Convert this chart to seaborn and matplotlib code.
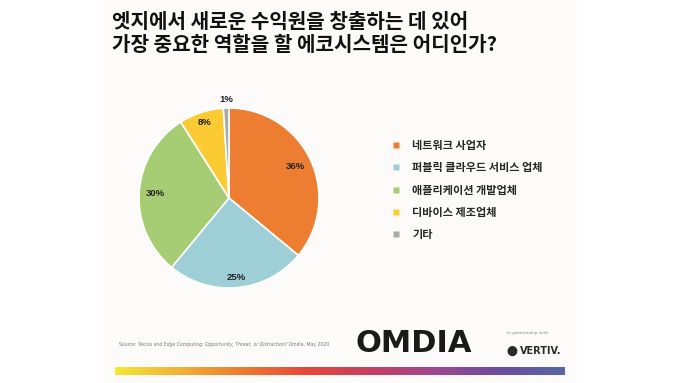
import numpy as np
import seaborn as sns
import matplotlib.pyplot as plt
from matplotlib.colors import LinearSegmentedColormap
from matplotlib.lines import Line2D
from matplotlib.patches import Rectangle

# Data
categories = ['네트워크 사업자', '퍼블릭 클라우드 서비스 업체', '애플리케이션 개발업체',
              '디바이스 제조업체', '기타']
shares = [36, 25, 30, 8, 1]
colors = ['#ED7D31', '#9ECFD6', '#A6CD74', '#FCCB34', '#A9A9A9']
label_dist = [0.81, 0.89, 0.82, 0.88, 1.10]

title = '엣지에서 새로운 수익원을 창출하는 데 있어\n가장 중요한 역할을 할 에코시스템은 어디인가?'
source_parts = ['Source: ', 'Telcos and Edge Computing: Opportunity, Threat, or Distraction?',
                ' Omdia, May 2020']
source_styles = ['normal', 'italic', 'normal']
bar_colors = ['#F4E736', '#F1B136', '#EC7A30', '#E6463A', '#C53E63', '#9E4790', '#6D4D9E', '#5867A6']

sns.set_theme(style='white')
plt.rcParams['font.family'] = ['Noto Sans CJK KR', 'DejaVu Sans']
palette = sns.color_palette(colors)

fig = plt.figure(figsize=(6.8, 3.83), dpi=100)
fig.patch.set_facecolor('white')

# slide background
fig.patches.append(Rectangle((103 / 680, 0), 474 / 680, 1, transform=fig.transFigure,
                             facecolor='#FCFBF9', edgecolor='none', zorder=-10))

# Pie
ax = fig.add_axes([0.1713, 0.1893, 0.3309, 0.5875])
wedges, texts = ax.pie(shares, colors=palette, startangle=90, counterclock=False,
                       wedgeprops=dict(edgecolor='white', linewidth=1.2))
for w, s, d in zip(wedges, shares, label_dist):
    ang = np.deg2rad((w.theta1 + w.theta2) / 2)
    ax.text(d * np.cos(ang), d * np.sin(ang), f'{s}%', ha='center', va='center',
            fontsize=6.8, fontweight='bold', color='#222222', family='Liberation Sans')
ax.set_xlim(-1.25, 1.25)
ax.set_ylim(-1.25, 1.25)
ax.set_aspect('equal')
ax.axis('off')

# Legend
handles = [Line2D([], [], marker='s', linestyle='none', markersize=5,
                  markerfacecolor=c, markeredgecolor='none') for c in palette]
fig.legend(handles, categories, loc='upper left', bbox_to_anchor=(381.5 / 680, 1 - 129 / 383),
           frameon=False, handlelength=0.8, handletextpad=1.05,
           labelspacing=0.84, prop=dict(weight='bold', size=8))

# Title
fig.text(112 / 680, 1 - 11 / 383, title, ha='left', va='top', fontsize=14.5,
         fontweight='bold', color='#111111', linespacing=1.1)

# Source line: normal / italic / normal pieces placed one after another
src = [fig.text(0, 1 - 346 / 383, t, ha='left', va='baseline', fontsize=3.3,
                color='#777777', family='DejaVu Sans', style=st)
       for t, st in zip(source_parts, source_styles)]
fig.canvas.draw()
renderer = fig.canvas.get_renderer()
x0 = 119
for t in src:
    t.set_x(x0 / 680)
    x0 += t.get_window_extent(renderer).width

# Logos
fig.text(414 / 680, 1 - 343 / 383, 'OMDIA', ha='center', va='center', fontsize=22,
         fontweight='bold', color='#1A1A1A', family='DejaVu Sans')
fig.text(507 / 680, 1 - 333 / 383, 'In partnership with', ha='left', va='center',
         fontsize=3.2, color='#888888', family='DejaVu Sans')
fig.text(512 / 680, 1 - 351 / 383, '⬤', ha='center', va='center', fontsize=7,
         color='#2A2A2A', family='DejaVu Sans')
fig.text(520 / 680, 1 - 351 / 383, 'VERTIV.', ha='left', va='center', fontsize=7,
         fontweight='bold', color='#2A2A2A', family='DejaVu Sans')

# Gradient bar
cmap = LinearSegmentedColormap.from_list('bar', bar_colors)
bax = fig.add_axes([115 / 680, 1 - 375 / 383, 450 / 680, 8 / 383])
bax.imshow(np.linspace(0, 1, 256)[None, :], aspect='auto', cmap=cmap)
bax.axis('off')

fig.savefig('out.png', dpi=100)
